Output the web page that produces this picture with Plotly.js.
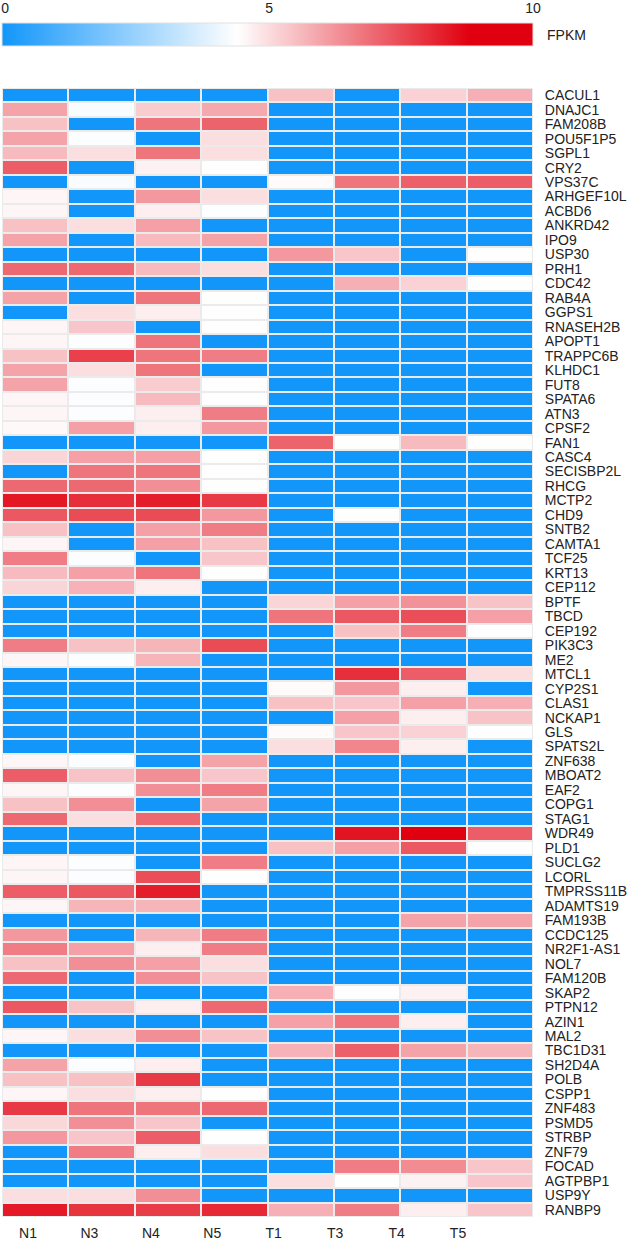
<!DOCTYPE html>
<html>
<head>
<meta charset="utf-8">
<script src="https://cdn.plot.ly/plotly-3.0.1.min.js"></script>
<style>html,body{margin:0;padding:0;background:#fff;}#chart{width:632px;height:1240px;}</style>
</head>
<body>
<div id="chart"></div>
<script>
const samples = ['N1','N3','N4','N5','T1','T3','T4','T5'];
const genes = ['CACUL1','DNAJC1','FAM208B','POU5F1P5','SGPL1','CRY2','VPS37C','ARHGEF10L','ACBD6','ANKRD42',
 'IPO9','USP30','PRH1','CDC42','RAB4A','GGPS1','RNASEH2B','APOPT1','TRAPPC6B','KLHDC1',
 'FUT8','SPATA6','ATN3','CPSF2','FAN1','CASC4','SECISBP2L','RHCG','MCTP2','CHD9',
 'SNTB2','CAMTA1','TCF25','KRT13','CEP112','BPTF','TBCD','CEP192','PIK3C3','ME2',
 'MTCL1','CYP2S1','CLAS1','NCKAP1','GLS','SPATS2L','ZNF638','MBOAT2','EAF2','COPG1',
 'STAG1','WDR49','PLD1','SUCLG2','LCORL','TMPRSS11B','ADAMTS19','FAM193B','CCDC125','NR2F1-AS1',
 'NOL7','FAM120B','SKAP2','PTPN12','AZIN1','MAL2','TBC1D31','SH2D4A','POLB','CSPP1',
 'ZNF483','PSMD5','STRBP','ZNF79','FOCAD','AGTPBP1','USP9Y','RANBP9'];

const N1 = [0,6.0,5.5,6.0,5.6,7.2,0,4.6,4.6,5.5,
 6.0,0,7.0,0,6.0,0,4.6,4.6,5.5,6.0,
 6.0,4.6,4.6,4.55,0,5.15,0,7.0,8.4,7.3,
 5.5,4.6,6.65,5.6,5.15,0,0,0,6.65,4.6,
 0,0,0,0,0,0,4.6,7.2,4.6,5.5,
 7.0,0,0,4.6,4.6,7.2,4.6,0,6.2,6.65,
 5.5,7.0,0,7.3,0,4.6,0,6.0,5.5,4.6,
 7.8,5.1,6.2,0,0,0,5.0,8.35];
const N3 = [0,4.3,0,4.35,5.0,0,4.3,0,0,5.0,
 0,0,7.0,0,0,5.0,5.4,4.35,7.7,5.0,
 4.35,4.35,4.35,6.05,0,6.05,6.8,7.0,8.0,7.5,
 0,0,4.35,6.05,5.75,0,0,0,5.5,4.35,
 0,0,0,0,0,0,4.35,5.45,4.35,6.35,
 5.0,0,0,4.35,4.35,7.3,5.7,0,0,6.05,
 6.35,0,0,5.45,0,5.0,0,4.35,5.5,5.0,
 6.8,6.35,5.4,6.65,0,0,5.0,7.9];
const N4 = [0,5.3,6.8,0,6.8,4.65,0,6.2,4.7,6.05,
 5.6,0,5.6,0,6.8,4.7,0,6.8,6.8,6.8,
 5.3,5.6,4.7,4.7,0,6.05,6.8,6.35,8.3,7.5,
 6.05,6.05,0,6.8,4.7,0,0,0,5.7,5.7,
 0,0,0,0,0,0,0,6.35,6.35,0,
 7.0,0,0,0,7.45,8.3,5.7,0,5.7,4.7,
 6.05,6.35,0,4.7,0,6.35,0,4.7,7.8,4.7,
 6.8,5.4,7.2,4.7,0,0,6.35,7.75];
const N5 = [0,5.9,7.1,5.0,5.0,4.45,0,5.0,4.4,0,
 6.0,0,5.0,0,4.45,4.45,4.45,0,6.65,0,
 4.45,4.45,6.65,6.2,0,4.45,4.45,4.45,7.8,6.2,
 6.65,5.5,5.4,4.45,0,0,0,0,7.5,0,
 0,0,0,0,0,0,6.0,5.4,6.65,6.0,
 0,0,0,6.65,4.45,0,0,0,6.65,6.65,
 5.0,5.45,0,7.0,0,5.45,0,0,0,4.45,
 7.0,0,4.45,5.0,0,0,0,8.1];
const T1 = [5.5,0,0,0,0,0,4.5,0,0,0,
 0,6.2,0,0,0,0,0,0,0,0,
 0,0,0,0,7.1,0,0,0,0,0,
 0,0,0,0,0,5.15,6.8,0,0,0,
 0,4.5,5.5,0,4.5,5.0,0,0,0,0,
 0,0,5.5,0,0,0,0,0,0,0,
 0,0,5.8,0,6.05,0,5.75,0,0,0,
 0,0,0,0,0,5.0,0,5.8];
const T3 = [0,0,0,0,0,0,6.8,0,0,0,
 0,5.4,0,5.8,0,0,0,0,0,0,
 0,0,0,0,4.45,0,0,0,0,4.45,
 0,0,0,0,0,6.05,7.3,5.5,0,0,
 8.0,6.2,5.4,6.05,5.4,6.5,0,0,0,0,
 0,8.45,6.05,0,0,0,0,0,0,0,
 0,0,4.45,0,6.8,0,7.15,0,0,0,
 0,0,0,0,6.65,4.45,0,6.65];
const T4 = [5.2,0,0,0,0,0,7.15,0,0,0,
 0,0,0,5.2,0,0,0,0,0,0,
 0,0,0,0,5.6,0,0,0,0,0,
 0,0,0,0,0,6.3,7.45,6.65,0,0,
 7.2,4.7,6.05,4.7,5.2,4.7,0,0,0,0,
 0,8.9,7.3,0,0,0,0,6.0,0,0,
 0,0,4.65,0,4.7,0,6.0,0,0,0,
 0,0,0,0,6.4,4.65,0,4.7];
const T5 = [5.8,0,0,0,0,0,7.2,0,0,0,
 0,4.45,0,4.45,0,0,0,0,0,0,
 0,0,0,0,4.45,0,0,0,0,0,
 0,0,0,0,0,5.45,6.05,4.45,0,0,
 5.0,0,5.8,5.45,4.45,0,0,0,0,0,
 0,7.2,4.45,0,0,0,0,6.0,0,0,
 0,0,0,0,0,0,5.7,0,0,0,
 0,0,0,0,5.4,5.4,0,5.4];

const colorTicks = [0, 5, 10];
const scaleTitle = 'FPKM';

const columns = [N1, N3, N4, N5, T1, T3, T4, T5];
const z = genes.map((g, r) => columns.map(col => col[r]));

const FONT = 'Liberation Sans, Arial, Helvetica, sans-serif';
const TXT = '#222222';
const FS = 14;

const heat = {
  type: 'heatmap',
  x: samples,
  y: genes,
  z: z,
  zmin: 0,
  zmax: 10,
  xgap: 2,
  ygap: 2,
  colorscale: [[0, '#1296fa'], [0.443, '#ffffff'], [0.88, '#e1000f'], [1, '#e1000f']],
  showscale: true,
  colorbar: {
    orientation: 'h',
    x: 0.5, xanchor: 'center', xref: 'paper',
    y: 0.97243, yanchor: 'middle', yref: 'paper',
    len: 531, lenmode: 'pixels',
    thickness: 23, thicknessmode: 'pixels',
    xpad: 0, ypad: 0,
    outlinewidth: 1, outlinecolor: '#e2e2e2',
    ticks: '', showticklabels: false
  },
  hoverinfo: 'skip'
};

// invisible carriers so the sample-label axis and the scale-tick axis are drawn
const sampleAxisCarrier = {
  type: 'scatter', mode: 'markers', xaxis: 'x2', yaxis: 'y',
  x: samples, y: samples.map(() => genes[0]),
  marker: {opacity: 0, size: 1}, hoverinfo: 'skip', showlegend: false
};
const scaleAxisCarrier = {
  type: 'scatter', mode: 'markers', xaxis: 'x3', yaxis: 'y',
  x: colorTicks, y: colorTicks.map(() => genes[0]),
  marker: {opacity: 0, size: 1}, hoverinfo: 'skip', showlegend: false
};

const layout = {
  width: 632, height: 1240,
  margin: {l: 2, r: 99, t: 2, b: 23, pad: 0},
  paper_bgcolor: '#ffffff',
  plot_bgcolor: '#ebebeb',
  font: {family: FONT, size: FS, color: TXT},
  showlegend: false,
  xaxis: {
    type: 'category', domain: [0, 1], showticklabels: false, ticks: '',
    range: [-0.5, samples.length - 0.5], autorange: false,
    showgrid: false, zeroline: false, showline: false, fixedrange: true
  },
  xaxis2: {
    overlaying: 'x', anchor: 'y', side: 'bottom', type: 'category',
    categoryorder: 'array', categoryarray: samples,
    range: [-0.4233, 8.221], autorange: false,
    tickmode: 'array', tickvals: samples, ticktext: samples,
    ticks: 'outside', ticklen: 3, tickcolor: 'rgba(0,0,0,0)',
    tickfont: {family: FONT, size: FS, color: TXT},
    showgrid: false, zeroline: false, showline: false, fixedrange: true
  },
  xaxis3: {
    overlaying: 'x', anchor: 'free', position: 0.9885, side: 'top', type: 'linear',
    range: [-0.06, 10], autorange: false,
    tickmode: 'array', tickvals: colorTicks, ticktext: colorTicks.map(String),
    ticklabeloverflow: 'allow',
    ticks: '', tickfont: {family: FONT, size: FS, color: TXT},
    showgrid: false, zeroline: false, showline: false, fixedrange: true
  },
  yaxis: {
    type: 'category', domain: [0, 0.92922],
    range: [genes.length - 0.5, -0.5], autorange: false, side: 'right',
    tickmode: 'array', tickvals: genes, ticktext: genes,
    ticks: 'outside', ticklen: 8, tickcolor: 'rgba(0,0,0,0)',
    tickfont: {family: FONT, size: FS, color: TXT},
    showgrid: false, zeroline: false, showline: false, fixedrange: true
  },
  annotations: [{
    text: scaleTitle, xref: 'paper', yref: 'paper',
    x: 1.0226, xanchor: 'left', y: 0.97243, yanchor: 'middle',
    showarrow: false, font: {family: FONT, size: FS, color: TXT}
  }]
};

Plotly.newPlot('chart', [heat, sampleAxisCarrier, scaleAxisCarrier], layout, {displayModeBar: false, staticPlot: true});
</script>
</body>
</html>
